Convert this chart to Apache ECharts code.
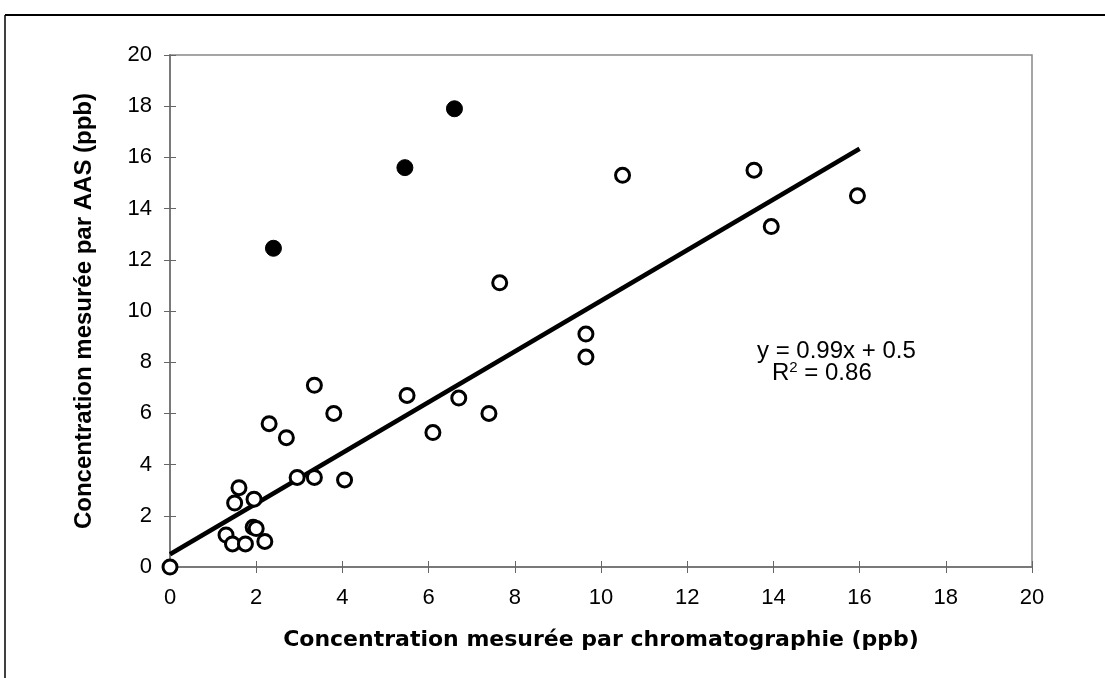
<!DOCTYPE html>
<html><head><meta charset="utf-8">
<script src="https://cdn.jsdelivr.net/npm/echarts@6/dist/echarts.min.js"></script>
<style>html,body{margin:0;padding:0;background:#fff}#c{width:1105px;height:678px}</style>
</head><body><div id="c"></div>
<script>
// Open circles: [chromatography, AAS]
const openX = [0, 1.3, 1.45, 1.5, 1.6, 1.75, 1.95, 1.93, 2.0, 2.2, 2.3, 2.7, 2.95, 3.35, 3.35, 3.8, 4.05, 5.5, 6.1, 6.7, 7.4, 7.65, 9.65, 9.65, 10.5, 13.55, 13.95, 15.95];
const openY = [0, 1.25, 0.9, 2.5, 3.1, 0.9, 2.65, 1.55, 1.5, 1.0, 5.6, 5.05, 3.5, 7.1, 3.5, 6.0, 3.4, 6.7, 5.25, 6.6, 6.0, 11.1, 9.1, 8.2, 15.3, 15.5, 13.3, 14.5];
// Filled (outliers)
const fillX = [2.4, 5.45, 6.6];
const fillY = [12.45, 15.6, 17.9];
// Trendline
const slope = [0.99];
const intercept = [0.5];
const trendRange = [0, 16];
const ticks = [0, 2, 4, 6, 8, 10, 12, 14, 16, 18, 20];
const xTitle = 'Concentration mesurée par chromatographie (ppb)';
const yTitle = 'Concentration mesurée par AAS (ppb)';

const openData = openX.map((x, i) => [x, openY[i]]);
const fillData = fillX.map((x, i) => [x, fillY[i]]);
const trendData = trendRange.map(x => [x, +(slope[0] * x + intercept[0]).toFixed(3)]);

const font = '"Liberation Sans", Arial, sans-serif';
const axisBase = {
  type: 'value', min: 0, max: 20, interval: 2,
  splitLine: { show: false },
  axisLine: { show: true, lineStyle: { color: '#777', width: 1.5 } },
};
const chart = echarts.init(document.getElementById('c'));
chart.setOption({
  animation: false,
  backgroundColor: '#fff',
  grid: { left: 170, right: 73, top: 55, bottom: 111, show: true, borderColor: '#888', borderWidth: 1.5 },
  xAxis: [
    Object.assign({}, axisBase, {
      position: 'bottom',
      axisTick: { show: true, inside: false, length: 6, lineStyle: { color: '#666', width: 1 } },
      axisLabel: { margin: 20, color: '#000', fontSize: 22, fontFamily: font },
      name: xTitle, nameLocation: 'middle', nameGap: 62,
      nameTextStyle: { color: '#000', fontSize: 22, fontWeight: 'bold', fontFamily: '"DejaVu Sans", sans-serif' }
    }),
    Object.assign({}, axisBase, {
      position: 'bottom',
      axisTick: { show: true, inside: true, length: 6, lineStyle: { color: '#666', width: 1 } },
      axisLabel: { show: false }
    })
  ],
  yAxis: [
    Object.assign({}, axisBase, {
      position: 'left',
      axisTick: { show: true, inside: false, length: 6, lineStyle: { color: '#666', width: 1 } },
      axisLabel: { margin: 18, color: '#000', fontSize: 22, fontFamily: font },
      name: yTitle, nameLocation: 'middle', nameGap: 74,
      nameTextStyle: { color: '#000', fontSize: 24, fontWeight: 'bold', fontFamily: font }
    }),
    Object.assign({}, axisBase, {
      position: 'left',
      axisTick: { show: true, inside: true, length: 6, lineStyle: { color: '#666', width: 1 } },
      axisLabel: { show: false }
    })
  ],
  series: [
    {
      type: 'line', data: trendData, showSymbol: false, symbol: 'none',
      lineStyle: { color: '#000', width: 4.5 }, z: 2
    },
    {
      type: 'scatter', data: openData, symbol: 'circle', symbolSize: 14,
      itemStyle: { color: '#fff', borderColor: '#000', borderWidth: 3, opacity: 1 }, z: 3
    },
    {
      type: 'scatter', data: fillData, symbol: 'circle', symbolSize: 16,
      itemStyle: { color: '#000', borderColor: '#000', borderWidth: 1, opacity: 1 }, z: 3
    }
  ],
  graphic: [
    { type: 'line', shape: { x1: 5, y1: 15, x2: 1105, y2: 15 }, style: { stroke: '#000', lineWidth: 2 } },
    { type: 'line', shape: { x1: 5, y1: 15, x2: 5, y2: 678 }, style: { stroke: '#000', lineWidth: 1.5 } },
    { type: 'text', left: 757, top: 339, style: { text: 'y = 0.99x + 0.5', fill: '#000', font: '24px ' + font } },
    { type: 'text', left: 772, top: 360, style: {
        text: '{r|R}{s|2}{r| = 0.86}', fill: '#000',
        rich: { r: { fontSize: 24, fontFamily: font, verticalAlign: 'bottom' }, s: { fontSize: 15, fontFamily: font, verticalAlign: 'top', padding: [0, 0, 10, 0] } }
      } }
  ]
});
</script>
</body></html>
